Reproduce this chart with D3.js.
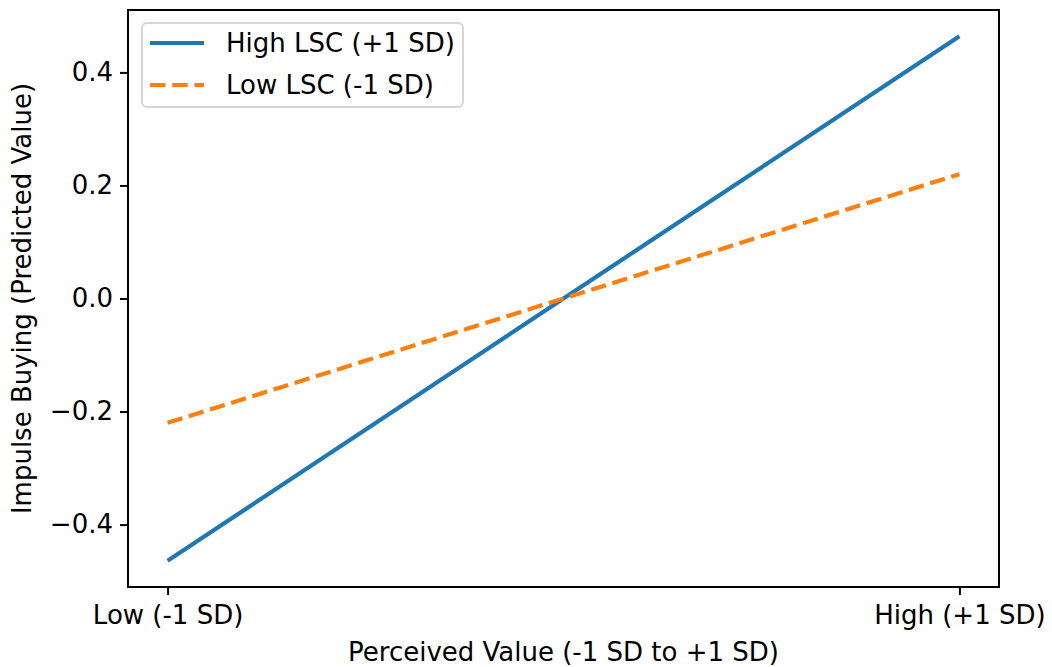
<!DOCTYPE html>
<html>
<head>
<meta charset="utf-8">
<script src="https://cdn.jsdelivr.net/npm/d3@7"></script>
<style>
  body { margin: 0; background: #fff; }
  svg { display: block; font-family: "DejaVu Sans", sans-serif; }
</style>
</head>
<body>
<div id="chart"></div>
<script>
// ---------------- data ----------------
var categories = ["Low (-1 SD)", "High (+1 SD)"];
var highLSC = [-0.464, 0.464];
var lowLSC = [-0.22, 0.22];
var yTicks = [-0.4, -0.2, 0.0, 0.2, 0.4];
var seriesNames = ["High LSC (+1 SD)", "Low LSC (-1 SD)"];

// ---------------- canvas ----------------
var margin = {left: 128, right: 53, top: 10, bottom: 80};
var svgWidth = 1052, svgHeight = 667;
var width = svgWidth - margin.left - margin.right,
    height = svgHeight - margin.top - margin.bottom;

var svg = d3.select("#chart").append("svg")
    .attr("width", svgWidth)
    .attr("height", svgHeight);

var g = svg.append("g")
    .attr("transform", `translate(${margin.left}, ${margin.top})`);

// matplotlib-like 5% padding
var x = d3.scaleLinear()
    .domain([-0.05, 1.05])
    .range([0, width]);

var yMax = d3.max(highLSC.concat(lowLSC).map(Math.abs));
var y = d3.scaleLinear()
    .domain([-yMax * 1.1, yMax * 1.1])
    .range([height, 0]);

var fontSize = 26;

// ---------------- axes ----------------
var xAxis = d3.axisBottom(x)
    .tickValues(categories.map((d, i) => i))
    .tickFormat(i => categories[i])
    .tickSize(8)
    .tickPadding(7);

var yAxis = d3.axisLeft(y)
    .tickValues(yTicks)
    .tickFormat(d => d3.format(".1f")(d).replace("-", "\u2212"))
    .tickSize(8)
    .tickPadding(7);

var gx = g.append("g")
    .attr("transform", `translate(0, ${height})`)
    .call(xAxis);

var gy = g.append("g").call(yAxis);

[gx, gy].forEach(function(a) {
  a.select(".domain").remove();
  a.selectAll(".tick line").attr("stroke", "#000").attr("stroke-width", 2);
  a.selectAll(".tick text")
    .attr("fill", "#000")
    .style("font-size", fontSize + "px")
    .style("font-family", "DejaVu Sans");
});
gx.selectAll(".tick text").attr("dy", "0.85em");

// ---------------- lines ----------------
var line = d3.line()
    .x((d, i) => x(i))
    .y(d => y(d));

g.append("path")
    .datum(highLSC)
    .attr("d", line)
    .attr("fill", "none")
    .attr("stroke", "#1f77b4")
    .attr("stroke-width", 4.2);

g.append("path")
    .datum(lowLSC)
    .attr("d", line)
    .attr("fill", "none")
    .attr("stroke", "#ff7f0e")
    .attr("stroke-width", 4.2)
    .attr("stroke-dasharray", "15.5,6.7");

// frame
g.append("rect")
    .attr("width", width)
    .attr("height", height)
    .attr("fill", "none")
    .attr("stroke", "#000")
    .attr("stroke-width", 2);

// ---------------- labels ----------------
svg.append("text")
    .attr("x", margin.left + width / 2)
    .attr("y", 661)
    .attr("text-anchor", "middle")
    .style("font-size", fontSize + "px")
    .text("Perceived Value (-1 SD to +1 SD)");

svg.append("text")
    .attr("transform", `translate(31, ${margin.top + height / 2}) rotate(-90)`)
    .attr("text-anchor", "middle")
    .style("font-size", fontSize + "px")
    .text("Impulse Buying (Predicted Value)");

// ---------------- legend ----------------
var legend = g.append("g")
    .attr("transform", "translate(14, 13)");

legend.append("rect")
    .attr("width", 321)
    .attr("height", 84)
    .attr("rx", 5)
    .attr("fill", "#fff")
    .attr("fill-opacity", 0.8)
    .attr("stroke", "#d6d6d6")
    .attr("stroke-width", 2);

var legendStyles = [
  {color: "#1f77b4", dash: null},
  {color: "#ff7f0e", dash: "15.5,6.7"}
];

seriesNames.forEach(function(name, i) {
  var row = legend.append("g")
      .attr("transform", `translate(0, ${20 + i * 42})`);
  row.append("line")
      .attr("x1", 8).attr("x2", 62)
      .attr("y1", 0).attr("y2", 0)
      .attr("stroke", legendStyles[i].color)
      .attr("stroke-width", 4.2)
      .attr("stroke-dasharray", legendStyles[i].dash);
  row.append("text")
      .attr("x", 84)
      .attr("y", 0)
      .attr("dy", "0.35em")
      .style("font-size", fontSize + "px")
      .text(name);
});
</script>
</body>
</html>
